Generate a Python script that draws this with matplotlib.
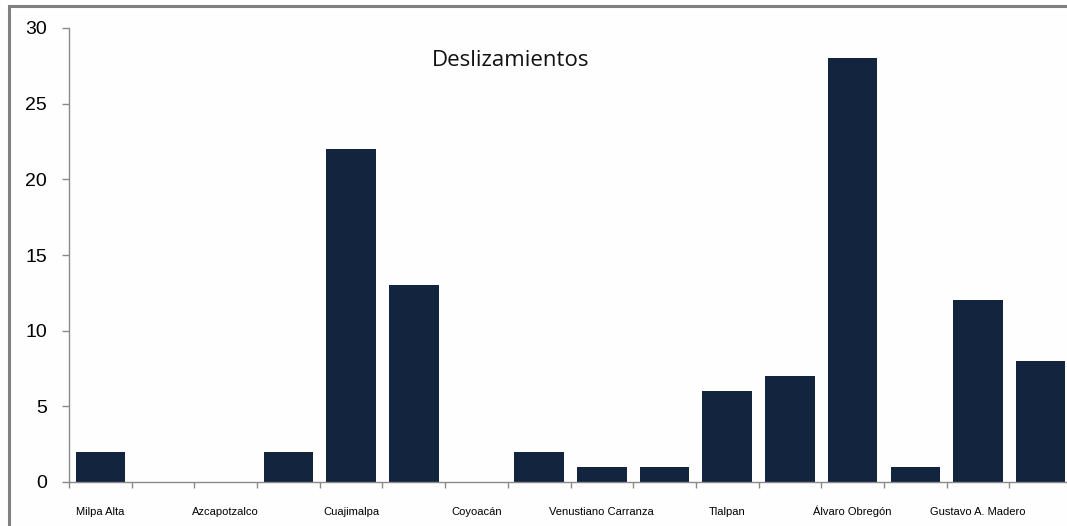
import matplotlib
matplotlib.use("Agg")
import matplotlib.pyplot as plt
from matplotlib.patches import Rectangle

# Data
labels = ["Milpa Alta", "", "Azcapotzalco", "", "Cuajimalpa", "", "Coyoacán", "",
          "Venustiano Carranza", "", "Tlalpan", "", "Álvaro Obregón", "", "Gustavo A. Madero", ""]
values = [2, 0, 0, 2, 22, 13, 0, 2, 1, 1, 6, 7, 28, 1, 12, 8]
title = "Deslizamientos"
yticks = [0, 5, 10, 15, 20, 25, 30]

W, H = 1067, 526
fig = plt.figure(figsize=(W / 100, H / 100), dpi=100)
fig.patch.set_facecolor("#fefefe")

# outer frame (partially cropped)
fig.patches.append(Rectangle((8.5 / W, -0.1), 1.2, 1 - 6 / H + 0.1, transform=fig.transFigure,
                             fill=False, edgecolor="#808080", linewidth=2.2, zorder=0))

ax = fig.add_axes([69 / W, 44 / H, 1003 / W, 454 / H])
ax.set_facecolor("#fefefe")
x = list(range(len(values)))
ax.bar(x, values, width=0.79, color="#13243f", linewidth=0, zorder=2)

ax.set_xlim(-0.5, len(values) - 0.5)
ax.set_ylim(0, 30)

for s in ["top", "right"]:
    ax.spines[s].set_visible(False)
for s in ["left", "bottom"]:
    ax.spines[s].set_color("#8a8a8a")
    ax.spines[s].set_linewidth(1.0)
    ax.spines[s].set_zorder(3)

ax.set_yticks(yticks)
ax.set_yticklabels([str(v) for v in yticks], fontfamily="Liberation Sans", fontsize=14)
ax.tick_params(axis="y", length=5, width=1, color="#8a8a8a", pad=11, direction="out")

ax.set_xticks(x)
ax.set_xticklabels(labels, fontfamily="Liberation Sans", fontsize=8, va="baseline")
ax.tick_params(axis="x", which="major", length=0, pad=24)
ax.set_xticks([i - 0.5 for i in range(len(values) + 1)], minor=True)
ax.tick_params(axis="x", which="minor", length=4, width=1, color="#8a8a8a", direction="out")

ax.text(0.4407, 0.928, title, transform=ax.transAxes, ha="center", va="center",
        fontfamily="Open Sans", fontsize=16, color="#111111")

fig.savefig("out.png", dpi=100, facecolor=fig.get_facecolor())
